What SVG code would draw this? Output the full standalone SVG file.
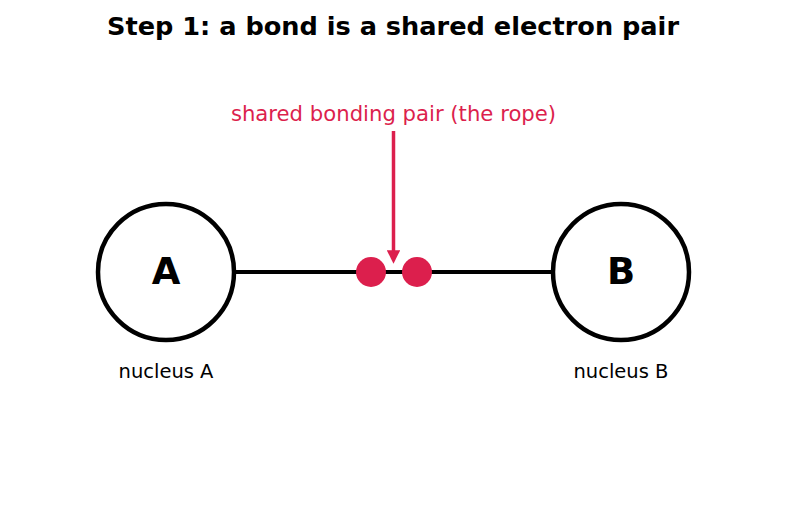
<svg xmlns="http://www.w3.org/2000/svg" width="787" height="512" viewBox="0 0 787 512">
<style>
text{font-family:"DejaVu Sans",sans-serif}
.nuc{fill:#fff;stroke:#000;stroke-width:4.5}
.big{font-size:37px;font-weight:bold;text-anchor:middle}
.lab{font-size:19.5px;text-anchor:middle}
.e{fill:#dc1f4d}
</style>
<defs>
<marker id="ah" viewBox="0 0 10 10" refX="0.5" refY="5" markerWidth="3.8" markerHeight="3.8" orient="auto" markerUnits="strokeWidth">
<path d="M0,0 L10,5 L0,10 z" fill="#dc1f4d"/>
</marker>
</defs>
<rect width="787" height="512" fill="#fff"/>
<text x="393" y="35" font-size="25.6" font-weight="bold" text-anchor="middle">Step 1: a bond is a shared electron pair</text>
<g id="connectors">
<line x1="234" y1="272" x2="553" y2="272" stroke="#000" stroke-width="4"/>
<line x1="393.5" y1="131" x2="393.5" y2="251" stroke="#dc1f4d" stroke-width="3.5" marker-end="url(#ah)"/>
</g>
<g id="nucleusA">
<circle class="nuc" cx="166" cy="272" r="68"/>
<text class="big" x="166" y="284">A</text>
<text class="lab" x="166" y="378">nucleus A</text>
</g>
<g id="nucleusB">
<circle class="nuc" cx="621" cy="272" r="68"/>
<text class="big" x="621" y="284">B</text>
<text class="lab" x="621" y="378">nucleus B</text>
</g>
<g id="electrons">
<circle class="e" cx="371" cy="272" r="15"/>
<circle class="e" cx="417" cy="272" r="15"/>
<text x="393.5" y="121" font-size="21.2" fill="#dc1f4d" text-anchor="middle">shared bonding pair (the rope)</text>
</g>
</svg>
